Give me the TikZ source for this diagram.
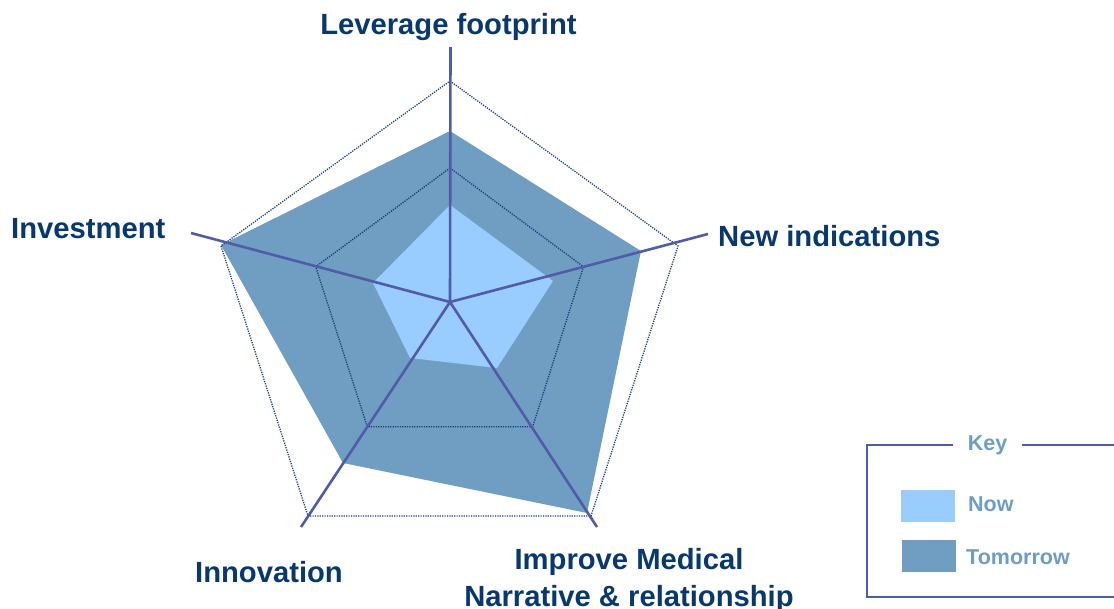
\documentclass[tikz,border=0pt]{standalone}
\usepackage{fontspec}
\setmainfont{Liberation Sans}
\definecolor{navytxt}{RGB}{8,56,110}
\definecolor{axiscol}{RGB}{80,92,168}
\definecolor{dotcol}{RGB}{25,60,120}
\definecolor{darkfill}{RGB}{112,158,194}
\definecolor{lightfill}{RGB}{153,204,255}
\definecolor{keytxt}{RGB}{110,157,196}
\tikzset{
  lab/.style={font=\fontsize{29.2}{36.7}\selectfont\bfseries, text=navytxt, inner sep=0pt, align=center},
  keylab/.style={font=\fontsize{21.5}{25}\selectfont\bfseries, text=keytxt, inner sep=0pt},
  axisline/.style={draw=axiscol, line width=2.6pt},
  gridline/.style={draw=dotcol, line width=1.3pt, dash pattern=on 1.2pt off 1.2pt},
  swatch/.style={minimum width=54pt, minimum height=32pt, inner sep=0pt, draw=none},
}
\begin{document}
\begin{tikzpicture}[x=1pt,y=-1pt]
\useasboundingbox (0,0) rectangle (1114,608);
\clip (0,0) rectangle (1114,608);
% tomorrow polygon
\coordinate (t1) at (450,131);
\coordinate (t2) at (641,251);
\coordinate (t3) at (587,513);
\coordinate (t4) at (343,463);
\coordinate (t5) at (221,245);
\fill[darkfill] (t1) -- (t2) -- (t3) -- (t4) -- (t5) -- cycle;
% now polygon
\coordinate (n1) at (450,205);
\coordinate (n2) at (553,281);
\coordinate (n3) at (497,368);
\coordinate (n4) at (410,358);
\coordinate (n5) at (373,283);
\fill[lightfill] (n1) -- (n2) -- (n3) -- (n4) -- (n5) -- cycle;
% grid pentagons
\coordinate (o1) at (450,81);
\coordinate (o2) at (678,246);
\coordinate (o3) at (591,516);
\coordinate (o4) at (308,516);
\coordinate (o5) at (221,246);
\draw[gridline] (o1) -- (o2) -- (o3) -- (o4) -- (o5) -- cycle;
\coordinate (i1) at (450,168);
\coordinate (i2) at (583.5,266.7);
\coordinate (i3) at (532.7,426.7);
\coordinate (i4) at (367.3,426.7);
\coordinate (i5) at (315.7,266.7);
\draw[gridline] (i1) -- (i2) -- (i3) -- (i4) -- (i5) -- cycle;
% axes
\coordinate (c) at (450,302);
\coordinate (a1) at (450.5,47);
\coordinate (a2) at (708,234);
\coordinate (a3) at (597,527);
\coordinate (a4) at (301,527);
\coordinate (a5) at (191,233);
\draw[axisline] (c) -- (a1);
\draw[axisline] (c) -- (a2);
\draw[axisline] (c) -- (a3);
\draw[axisline] (c) -- (a4);
\draw[axisline] (c) -- (a5);
% labels
\node[lab, anchor=base] (lev) at (448.5,34.5) {Leverage footprint};
\node[lab, anchor=base west] (inv) at (11,238.5) {Investment};
\node[lab, anchor=base west] (newi) at (718,246.5) {New indications};
\node[lab, anchor=base] (innov) at (269,582) {Innovation};
\node[lab, anchor=base] (impr) at (629,606) {Improve Medical\\Narrative \& relationship};
% key
\coordinate (k1) at (867,445);
\coordinate (k2) at (1130,597);
\draw[draw=axiscol, line width=1.6pt] (k1) rectangle (k2);
\node[keylab, fill=white, inner xsep=15pt, inner ysep=3pt] (keyt) at (987.5,445) {Key};
\node[swatch, fill=lightfill] (sw1) at (928,505.5) {};
\node[swatch, fill=darkfill] (sw2) at (928.5,556) {};
\node[keylab, anchor=base west] (nowt) at (968,511) {Now};
\node[keylab, anchor=base west] (tomt) at (966,564) {Tomorrow};
\end{tikzpicture}
\end{document}
